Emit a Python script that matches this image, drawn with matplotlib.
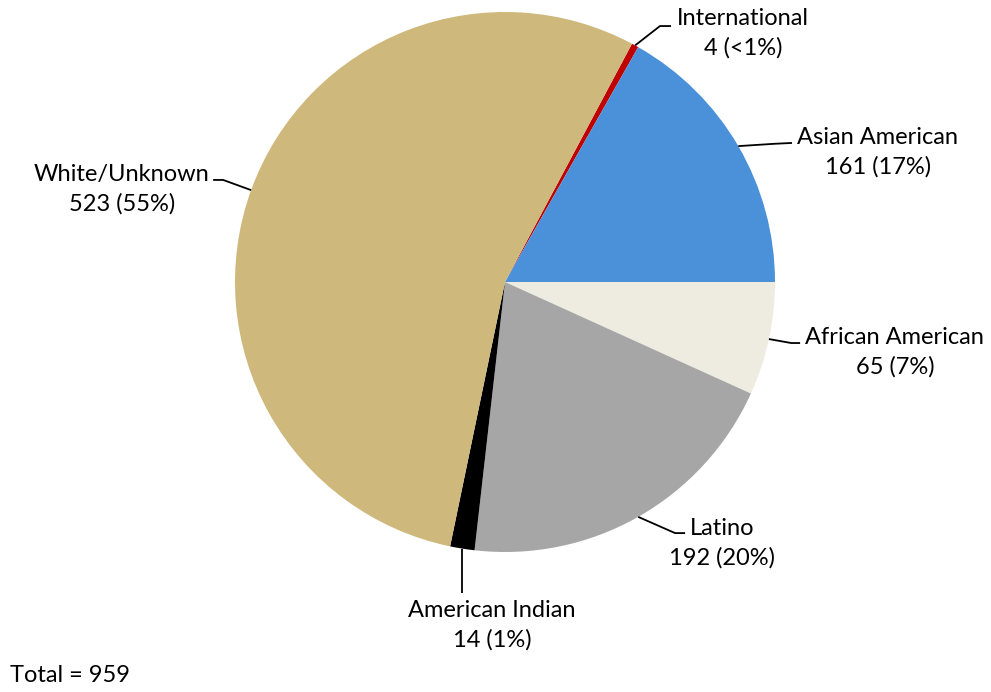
import numpy as np
import matplotlib.pyplot as plt

labels = ["International", "Asian American", "African American",
          "Latino", "American Indian", "White/Unknown"]
counts = [4, 161, 65, 192, 14, 523]
pct_text = ["<1%", "17%", "7%", "20%", "1%", "55%"]
colors = ["#C00000", "#4A91DA", "#EEEBE0", "#A5A6A5", "#000000", "#CFB87C"]

total = sum(counts)

fig = plt.figure(figsize=(9.91, 6.92), dpi=100)
ax = fig.add_axes([0, 0, 1, 1])

start = (counts[0] + counts[1]) / total * 360
wedges, _ = ax.pie(counts, colors=colors, startangle=start, counterclock=False,
                   radius=1.0, center=(0, 0), frame=True)
ax.set_xlim(-505 / 270, (991 - 505) / 270)
ax.set_ylim(-(692 - 282) / 270, 282 / 270)
ax.axis("off")

# label layout: text centre, leader elbow, leader end
text_pos = [(0.881, 0.922), (1.381, 0.481), (1.444, -0.259),
            (0.804, -0.967), (-0.048, -1.270), (-1.419, 0.344)]
elbows = [(0.574, 0.948), (1.000, 0.512), (1.060, -0.226),
          (0.630, -0.930), (None, -1.152), (-1.044, 0.378)]
ends = [(0.615, 0.948), (1.063, 0.515), (1.093, -0.226),
        (0.667, -0.930), (None, -1.152), (-1.081, 0.378)]

fnt = dict(family=["Lato", "DejaVu Sans"], size=17, color="black")

for w, lab, n, p, tp, el, en in zip(wedges, labels, counts, pct_text,
                                    text_pos, elbows, ends):
    mid = np.deg2rad((w.theta1 + w.theta2) / 2)
    ex, ey = np.cos(mid), np.sin(mid)
    elx = ex if el[0] is None else el[0]
    enx = ex if en[0] is None else en[0]
    ax.plot([ex, elx, enx], [ey, el[1], en[1]], color="black", lw=1.3,
            solid_capstyle="butt")
    ax.text(tp[0], tp[1], f"{lab}\n{n} ({p})", ha="center", va="center",
            multialignment="center", linespacing=1.45, **fnt)

fig.text(10 / 991, 1 - 675 / 692, f"Total = {total}", ha="left", va="center", **fnt)

fig.savefig("out.png", dpi=100)
